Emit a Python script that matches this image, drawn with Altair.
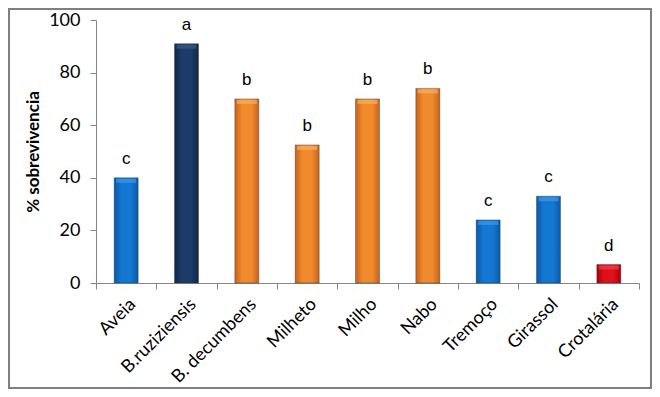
import altair as alt
import pandas as pd

categories = ["Aveia", "B.ruziziensis", "B. decumbens", "Milheto", "Milho", "Nabo", "Tremoço", "Girassol", "Crotalária"]
values = [40, 91, 70, 52.5, 70, 74, 24, 33, 7]
letters = ["c", "a", "b", "b", "b", "b", "c", "c", "d"]
groups = ["blue", "navy", "orange", "orange", "orange", "orange", "blue", "blue", "red"]

df = pd.DataFrame({"cat": categories, "val": values, "letter": letters, "grp": groups})

palette = {
    "blue": ("#0a5aa6", "#1477d2", "#0a5aa6", "#3d9ae8"),
    "navy": ("#0f2747", "#1c3b68", "#0f2747", "#3a5a88"),
    "orange": ("#c8621a", "#f08a2c", "#c8621a", "#f8b060"),
    "red": ("#a80008", "#e0101a", "#a80008", "#f04048"),
}

FONT = "Lato"
xenc = alt.X("cat:N", sort=categories, title=None,
             scale=alt.Scale(paddingInner=0, paddingOuter=0),
             axis=alt.Axis(labelAngle=-45, labelFontSize=18, labelFont=FONT, labelColor="#000000",
                           tickBand="extent", tickSize=6, tickColor="#868686",
                           domainColor="#868686", labelPadding=6))
yenc = alt.Y("val:Q", title="% sobrevivencia",
             scale=alt.Scale(domain=[0, 100]),
             axis=alt.Axis(values=[0, 20, 40, 60, 80, 100], labelFontSize=18, labelFont=FONT,
                           labelColor="#000000", tickSize=6, tickColor="#868686",
                           domainColor="#868686", grid=False, titleFont=FONT,
                           titleFontSize=17, titleFontWeight="bold", titleColor="#000000",
                           titlePadding=6, labelPadding=10))

base = alt.Chart(df)
layers = []
for g, (edge, mid, edge2, top) in palette.items():
    grad = alt.Gradient(gradient="linear", x1=0, x2=1, y1=0, y2=0,
                        stops=[alt.GradientStop(color=edge, offset=0),
                               alt.GradientStop(color=mid, offset=0.3),
                               alt.GradientStop(color=mid, offset=0.7),
                               alt.GradientStop(color=edge2, offset=1)])
    layers.append(base.transform_filter(alt.datum.grp == g)
                  .mark_bar(size=24, color=grad, stroke="#1a2a40", strokeWidth=0.6, strokeOpacity=0.6)
                  .encode(x=xenc, y=yenc))
    layers.append(base.transform_filter(alt.datum.grp == g)
                  .mark_tick(thickness=4, size=20, color=top, yOffset=3)
                  .encode(x=xenc, y=yenc))

text = base.mark_text(dy=-19, fontSize=17, font="Liberation Sans", color="#000000").encode(
    x=xenc, y=yenc, text="letter:N")

border = alt.Chart(pd.DataFrame({"a": [0]})).mark_rect(filled=False, stroke="#7f7f7f", strokeWidth=2).encode(
    x=alt.value(-87), x2=alt.value(555), y=alt.value(-11), y2=alt.value(368))

chart = alt.layer(*layers, text, border).properties(
    width=543, height=263,
    autosize=alt.AutoSizeParams(type="none"),
    padding={"left": 88, "top": 12, "right": 13, "bottom": 106},
).configure_view(stroke=None)

chart.save("out.html", embed_options={"renderer": "svg", "actions": False})
